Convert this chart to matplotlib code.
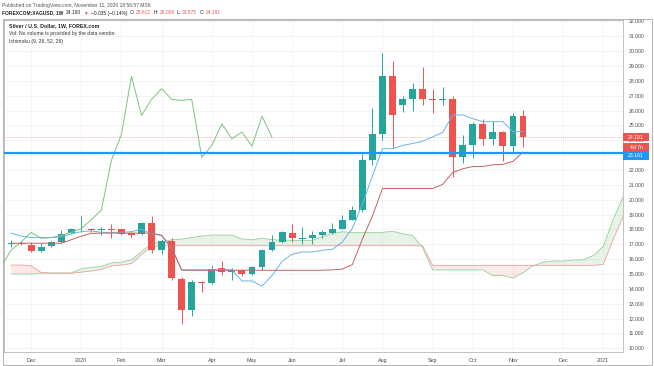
import numpy as np
import pandas as pd
import matplotlib
matplotlib.use('Agg')
import matplotlib.pyplot as plt
import matplotlib.dates as mdates
from matplotlib.patches import Rectangle

plt.rcParams['font.family'] = ['Liberation Sans', 'DejaVu Sans']

W, H = 654, 366

# weekly candles FOREXCOM:XAGUSD, first week 2019-11-18
opens = [17.02, 17.1, 16.95, 16.55, 16.85, 17.15, 17.75, 18.0, 18.05, 17.95,
         18.05, 18.0, 17.75, 17.7, 18.45, 16.6, 17.25, 14.65, 12.6, 14.45,
         14.4, 15.4, 15.15, 15.25, 14.97, 15.47, 16.6, 17.15, 17.78, 17.35,
         17.45, 17.6, 17.78, 18.05, 18.65, 19.3, 22.7, 24.45, 28.3, 26.4,
         26.75, 27.47, 26.75, 26.68, 26.75, 22.85, 23.65, 25.1, 24.1, 24.55,
         23.6, 25.612]
highs = [17.3, 17.25, 17.15, 17.1, 17.2, 17.95, 18.1, 18.9, 18.1, 18.15,
         18.35, 18.05, 17.85, 18.5, 18.9, 17.35, 17.4, 14.8, 14.6, 14.55,
         15.6, 15.85, 15.4, 15.35, 15.55, 16.7, 17.6, 17.9, 18.35, 18.15,
         17.9, 17.95, 18.4, 19.0, 19.6, 23.05, 26.15, 29.85, 29.35, 27.0,
         27.85, 28.95, 27.45, 27.6, 26.95, 24.35, 25.25, 25.4, 25.3, 24.6,
         25.8, 26.008]
lows = [16.8, 16.95, 16.47, 16.45, 16.8, 17.1, 17.7, 17.85, 17.85, 17.65,
        17.45, 17.6, 17.45, 17.65, 16.4, 16.35, 14.6, 11.65, 12.2, 13.8,
        14.3, 14.9, 14.6, 14.85, 14.9, 15.3, 16.55, 17.1, 17.15, 17.05,
        17.0, 17.45, 17.7, 18.0, 18.6, 19.2, 22.3, 24.0, 23.45, 25.9,
        26.0, 26.35, 25.85, 26.35, 21.55, 22.5, 22.8, 23.65, 23.7, 22.6,
        23.15, 23.575]
closes = [17.08, 17.05, 16.55, 16.82, 17.15, 17.7, 18.0, 18.06, 17.95, 18.05,
          17.95, 17.7, 17.65, 18.45, 16.6, 17.25, 14.7, 12.6, 14.45, 14.38,
          15.35, 15.15, 15.25, 14.97, 15.47, 16.6, 17.15, 17.8, 17.4, 17.45,
          17.6, 17.8, 18.05, 18.65, 19.3, 22.65, 24.4, 28.3, 25.67, 26.75,
          27.47, 26.75, 26.68, 26.75, 22.85, 23.65, 25.1, 24.1, 24.55, 23.6,
          25.612, 24.191]

# Ichimoku (9, 26, 52, 26)
conversion = [17.75, 17.55, 17.45, 17.45, 17.45, 17.5, 17.7, 17.85, 17.9, 17.8,
              17.8, 17.8, 17.85, 18.0, 17.7, 17.6, 16.75, 15.28, 15.28, 15.28,
              15.28, 15.28, 15.28, 14.53, 14.53, 14.18, 14.9, 15.85, 16.33, 16.48,
              16.48, 16.6, 16.65, 17.15, 18.08, 19.7, 21.6, 23.43, 23.43, 23.65,
              23.78, 23.93, 24.23, 24.53, 25.7, 25.7, 25.45, 25.25, 25.25, 25.25,
              24.58, 24.58]
base = [17.07, 17.07, 17.07, 17.07, 17.07, 17.07, 17.3, 17.55, 17.73, 17.75,
        17.75, 17.75, 17.75, 17.75, 17.75, 17.6, 16.75, 15.25, 15.25, 15.25,
        15.25, 15.25, 15.25, 15.25, 15.25, 15.25, 15.25, 15.25, 15.25, 15.25,
        15.25, 15.25, 15.28, 15.33, 15.63, 17.35, 18.9, 20.75, 20.75, 20.75,
        20.75, 20.75, 20.75, 21.03, 21.83, 22.08, 22.23, 22.23, 22.35, 22.38,
        22.58, 23.2]
# leading spans run 10 weeks past the last candle
lead_a = [15.0, 15.0, 15.0, 15.05, 15.07, 15.07, 15.07, 15.35, 15.45, 15.5,
          15.75, 15.8, 15.95, 16.5, 17.05, 17.15, 17.3, 17.35, 17.45, 17.55,
          17.62, 17.62, 17.62, 17.35, 17.3, 17.41, 17.31, 17.26, 17.26, 17.26,
          17.26, 17.5, 17.72, 17.84, 17.78, 17.78, 17.78, 17.8, 17.88, 17.7,
          17.6, 16.75, 15.27, 15.27, 15.27, 15.27, 15.27, 15.27, 14.89, 14.89,
          14.72, 15.08, 15.55, 15.79, 15.87, 15.87, 15.93, 15.96, 16.24, 16.86,
          18.7, 20.25]
lead_b = [15.6, 15.6, 15.55, 15.1, 15.05, 15.05, 15.05, 15.12, 15.2, 15.3,
          15.55, 15.6, 15.7, 16.3, 16.85, 16.9, 16.9, 16.9, 16.9, 16.9,
          16.9, 16.9, 16.9, 16.9, 16.9, 16.9, 16.9, 16.9, 16.9, 16.9,
          16.9, 16.9, 16.9, 16.9, 16.9, 16.9, 16.9, 16.9, 16.9, 16.9,
          16.9, 16.9, 15.58, 15.58, 15.58, 15.58, 15.58, 15.58, 15.58, 15.58,
          15.58, 15.58, 15.58, 15.58, 15.58, 15.58, 15.58, 15.58, 15.58, 15.65,
          17.35, 18.9]
lag_shift = 25

hline_price = 23.161
last_price = 24.191
price_ticks = list(range(10, 33))

weeks = pd.date_range('2019-11-18', periods=len(lead_a), freq='7D')
x_all = mdates.date2num(weeks)
x = x_all[:len(closes)]

up_col = '#26a69a'
dn_col = '#ef5350'

fig = plt.figure(figsize=(W / 100, H / 100), dpi=100)
ax = fig.add_axes([4 / W, 1 - 352 / H, 619 / W, 332 / H])

def fx(px):
    return px / W

def fy(py):
    return 1 - py / H

# cloud
a = np.array(lead_a)
b = np.array(lead_b)
ax.fill_between(x_all, a, b, where=a >= b, interpolate=True, color='#43a047', alpha=0.12, lw=0, zorder=1)
ax.fill_between(x_all, a, b, where=a < b, interpolate=True, color='#f44336', alpha=0.11, lw=0, zorder=1)
ax.plot(x_all, a, color='#98d098', lw=0.6, zorder=2)
ax.plot(x_all, b, color='#eca0a0', lw=0.6, zorder=2)

# candles
for i in range(len(closes)):
    o, h, l, c = opens[i], highs[i], lows[i], closes[i]
    col = up_col if c >= o else dn_col
    ax.vlines(x[i], l, h, color=col, lw=0.7, zorder=3)
    ax.bar(x[i], max(abs(c - o), 0.06), bottom=min(o, c), width=4.8, color=col, lw=0, zorder=3)

ax.plot(x, conversion, color='#6ab4ea', lw=0.7, zorder=4)
ax.plot(x, base, color='#c0655f', lw=0.7, zorder=4)
ax.plot(x[lag_shift - 1:] - lag_shift * 7, closes[lag_shift - 1:], color='#7cc47c', lw=0.7, zorder=4)

ax.axhline(last_price, color='#ef5350', lw=0.5, ls=(0, (1.5, 1.5)), alpha=0.55, zorder=2)
ax.axhline(hline_price, color='#2196f3', lw=1.6, zorder=5)

ax.set_xlim(x[0] - 0.7 * 7, x[0] + 60.96 * 7)
ax.set_ylim(9.75, 32.09)

# month ticks on first week of each month
tick_x, tick_lab = [], []
for k in range(1, len(weeks)):
    if weeks[k].month != weeks[k - 1].month:
        tick_x.append(x_all[k])
        tick_lab.append(str(weeks[k].year) if weeks[k].month == 1 else weeks[k].strftime('%b'))
ax.set_xticks(tick_x)
ax.set_xticklabels(tick_lab)
ax.tick_params(axis='x', length=0, pad=4, labelsize=3.9, labelcolor='#4a4a4a')

ax.yaxis.tick_right()
ax.set_yticks(price_ticks)
ax.set_yticklabels([f'{v:.3f}' for v in price_ticks])
ax.tick_params(axis='y', length=0, pad=4, labelsize=3.7, labelcolor='#4a4a4a')

ax.grid(True, color='#eef0f4', lw=0.5, zorder=0)
ax.set_axisbelow(True)
for s in ax.spines.values():
    s.set_color('#b8b8b8')
    s.set_linewidth(0.6)

fig.add_artist(Rectangle((fx(3), fy(365)), 649 / W, 346 / H, transform=fig.transFigure,
                         fill=False, ec='#a8a8a8', lw=0.6))

# price labels on the axis
ytr = ax.get_yaxis_transform()
for price, txt, col in [(24.21, '24.191', '#ef5350'), (23.54, '4d 7h', '#ef5350'), (22.98, '23.161', '#2196f3')]:
    ax.add_patch(Rectangle((1.0, price - 0.29), 26 / 619, 0.58, transform=ytr, color=col, lw=0, clip_on=False, zorder=6))
    ax.text(1.0 + 13 / 619, price, txt, transform=ytr, ha='center', va='center', fontsize=3.7, color='white', zorder=7)

# header
fig.text(fx(2), fy(5), 'Published on TradingView.com, November 11, 2020 18:56:57 MSK',
         fontsize=3.6, color='#555555', va='center')
hdr = [('FOREXCOM:XAGUSD, 1W', '#222222', 'bold'), ('24.193', '#222222', 'normal'),
       ('▼', '#ef5350', 'normal'), ('−0.035 (−0.14%)', '#222222', 'normal'),
       ('O:', '#222222', 'normal'), ('25.612', '#ef5350', 'normal'),
       ('H:', '#222222', 'normal'), ('26.008', '#ef5350', 'normal'),
       ('L:', '#222222', 'normal'), ('23.575', '#ef5350', 'normal'),
       ('C:', '#222222', 'normal'), ('24.191', '#ef5350', 'normal')]
renderer = fig.canvas.get_renderer()
cur = 2.0
for k, (txt, col, wt) in enumerate(hdr):
    t = fig.text(fx(cur), fy(13), txt, fontsize=3.5, color=col, fontweight=wt, va='center')
    bb = t.get_window_extent(renderer)
    gap = 1.0 if txt.endswith(':') else 2.5
    cur += bb.width + gap

fig.text(fx(9), fy(26), 'Silver / U.S. Dollar, 1W, FOREX.com', fontsize=3.8, color='#222222',
         fontweight='bold', va='center')
fig.text(fx(9), fy(34), 'Vol: No volume is provided by the data vendor.', fontsize=3.7,
         color='#333333', va='center')
fig.text(fx(9), fy(42), 'Ichimoku (9, 26, 52, 26)', fontsize=3.7, color='#333333', va='center')

fig.savefig('out.png', dpi=100)
